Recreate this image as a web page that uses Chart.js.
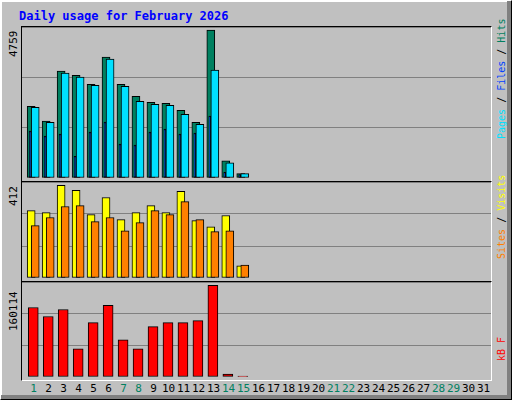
<!DOCTYPE html>
<html><head><meta charset="utf-8">
<script src="https://cdn.jsdelivr.net/npm/chart.js@4"></script>
<style>
body{margin:0;background:#c0c0c0;}
#wrap{position:absolute;left:0;top:0;width:510px;height:398px;background:#c0c0c0;border-top:1px solid #fff;border-left:1px solid #fff;border-right:1px solid #000;border-bottom:1px solid #000;box-shadow:inset -4px -4px 0 #808080, inset 1px 1px 0 #fff;font-family:"DejaVu Sans Mono",monospace;}
.frame{position:absolute;left:20px;width:469px;border-top:1px solid #000;border-left:1px solid #000;border-right:1px solid #fff;border-bottom:1px solid #fff;}
canvas{position:absolute;}
.rot{position:absolute;transform:rotate(-90deg);transform-origin:0 0;white-space:nowrap;font-size:11px;}
.rr{font-size:10px;}
.day{position:absolute;top:381px;font-size:11px;width:16px;text-align:center;}
</style></head><body>
<div id="wrap">
<div style="position:absolute;left:18px;top:8px;color:#0000ff;font-weight:bold;font-size:12px;">Daily usage for February 2026</div>
<div class="frame" style="top:25px;height:154px;"></div>
<div class="frame" style="top:180px;height:99px;"></div>
<div class="frame" style="top:280px;height:98px;"></div>
<canvas id="c1" style="left:21px;top:26px;width:469px;height:151px"></canvas>
<canvas id="c2" style="left:21px;top:181px;width:469px;height:96px"></canvas>
<canvas id="c3" style="left:21px;top:281px;width:469px;height:95px"></canvas>
<div class="rot" style="left:6px;top:56px;">4759</div>
<div class="rot" style="left:6px;top:205px;">412</div>
<div class="rot" style="left:6px;top:330px;">160114</div>
<div class="rot rr" style="left:495px;top:138px;"><span style="color:#00e0ff">Pages</span> / <span style="color:#0040ff">Files</span> / <span style="color:#008060">Hits</span></div>
<div class="rot rr" style="left:495px;top:258px;"><span style="color:#ff8000">Sites</span> / <span style="color:#ffff00">Visits</span></div>
<div class="rot rr" style="left:495px;top:360px;"><span style="color:#ff0000">kB F</span></div>
<div id="days"></div>
</div>
<script>
const days = Array.from({length:31},(_,i)=>String(i+1));
const weekend = [1,7,8,14,15,21,22,28,29];
const hits  = [2304,1830,3435,3305,3015,3887,3015,2627,2433,2401,2175,1787,4759,549,140];
const files = [2272,1787,3370,3241,2982,3822,2950,2466,2369,2337,2046,1723,3467,485,140];
const pages = [1507,1346,1411,700,1475,1798,1088,1055,1475,1572,1411,1443,1992,183,108];
const visits= [300,291,412,390,282,358,260,291,322,291,385,255,228,278,54];
const sites = [233,269,318,322,251,269,210,246,300,282,340,260,206,210,58];
const kbytes= [121400,105570,117890,49270,95010,124920,65100,49270,87970,95010,95010,98530,160114,5280,1760];

const dd=document.getElementById('days');
days.forEach((d,i)=>{const e=document.createElement('div');e.className='day';e.textContent=d;
 e.style.left=(24.5+15*i)+'px';e.style.color=weekend.includes(i+1)?'#008060':'#000';dd.appendChild(e);});

function ds(vals,off,w,color){return {data:vals.map((v,i)=>({x:i+1+off,y:v})),backgroundColor:color,borderColor:'#000',borderWidth:1,barThickness:w,grouped:false,borderSkipped:false};}
function mk(id,sets,max){
 new Chart(document.getElementById(id),{type:'bar',data:{datasets:sets},
 options:{responsive:false,animation:false,devicePixelRatio:1,layout:{padding:0},
 plugins:{legend:{display:false},tooltip:{enabled:false}},
 scales:{x:{type:'linear',offset:false,min:0.5-5/15,max:31.5,display:false},
  y:{min:0,max:max,display:true,ticks:{display:false,stepSize:max/3},border:{display:false},
   grid:{color:'#808080',drawTicks:false,lineWidth:1}}}}});
}
mk('c1',[ds(pages,-0.29,2,'#0040ff'),ds(files,0.05,8,'#00e0ff'),ds(hits,-0.22,8,'#008060')],4855);
mk('c2',[ds(sites,0.05,8,'#ff8000'),ds(visits,-0.22,8,'#ffff00')],427);
mk('c3',[ds(kbytes,-0.08,10,'#ff0000')],165870);
</script>
</body></html>
